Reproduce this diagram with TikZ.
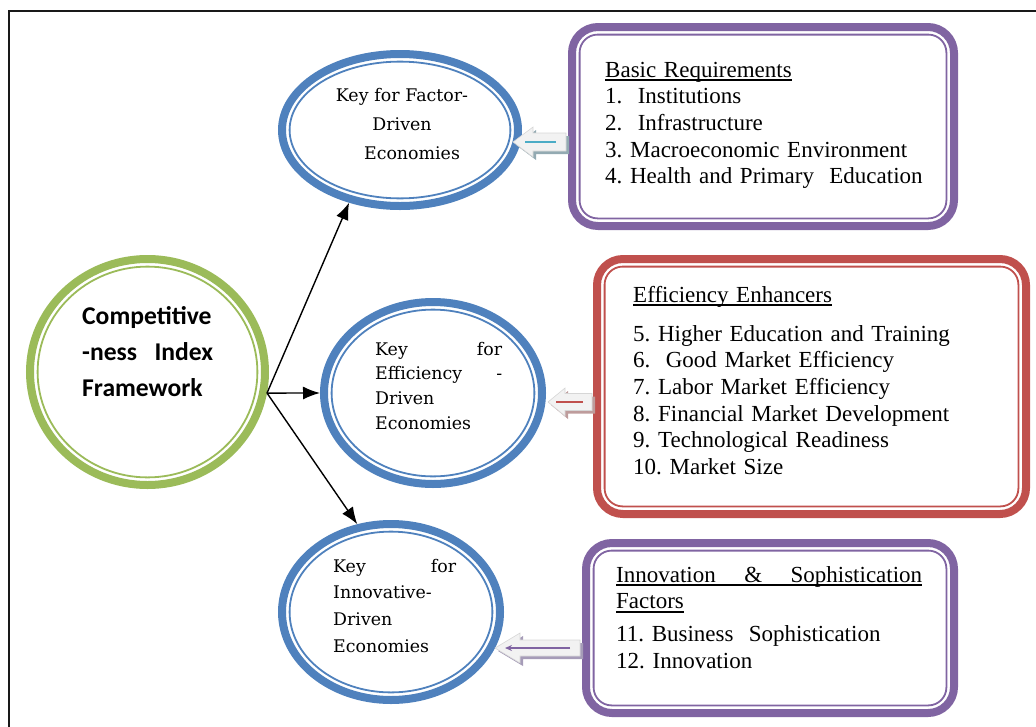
\documentclass[tikz,border=0pt]{standalone}
\usepackage{fontspec}
\newfontfamily\listfont{Liberation Serif}
\newfontfamily\titlefont{Carlito}
\newfontfamily\keyfont{DejaVu Serif}
\usetikzlibrary{shapes.geometric,arrows.meta,calc}

\definecolor{ringblue}{HTML}{4F81BD}
\definecolor{ringgreen}{HTML}{9BBB59}
\definecolor{ringred}{HTML}{C0504D}
\definecolor{ringpurple}{HTML}{8064A2}
\definecolor{lineteal}{HTML}{4BACC6}
\definecolor{arrowfill}{HTML}{F2F2F2}
\definecolor{arrowedge}{HTML}{D6D6D6}
\definecolor{shadeteal}{HTML}{93AAB2}
\definecolor{shadered}{HTML}{BE9C9C}
\definecolor{shadepurple}{HTML}{A69CB8}

% underline drawn as a rule below the boxed text
\newcommand\ulined[1]{\setbox0\hbox{#1}\leavevmode\rlap{\rule[-4pt]{\wd0}{1.7pt}}\box0}

% block arrow outline: #1 options, #2 tail, #3 tip, #4 head length,
% #5 half head width, #6 half shaft width, #7 offset
\newcommand\arrowpoly[7]{%
  \path[#1] ($(#3)+(#7,#7)$) -- ($(#3)+(#4+#7,#5+#7)$) -- ($(#3)+(#4+#7,#6+#7)$)
    -- ($(#2)+(#7,#6+#7)$) -- ($(#2)+(#7,-#6+#7)$) -- ($(#3)+(#4+#7,-#6+#7)$)
    -- ($(#3)+(#4+#7,-#5+#7)$) -- cycle;}

\begin{document}
\frenchspacing
\begin{tikzpicture}[x=1pt,y=-1pt,
  ring/.style={draw=#1,line width=8pt},
  thinring/.style={draw=#1,line width=1.8pt},
  keyellipse/.style={ellipse,ring=ringblue,inner sep=0pt},
  factbox/.style={rectangle,ring=#1,rounded corners=26pt,inner sep=0pt,outer sep=0pt},
  listtext/.style={font=\listfont\fontsize{23}{26.7}\selectfont\frenchspacing,align=left,inner sep=0pt,anchor=base west},
  keytext/.style={font=\keyfont\fontsize{17.4}{#1}\selectfont,align=left,inner sep=0pt,anchor=base west},
  conn/.style={line width=1.4pt,-{Latex[length=17pt,width=13pt]}},
  frameline/.style={draw=black!90,line width=1.5pt}]

\clip (0,0) rectangle (1036,726);
\draw[frameline] (9,11) rectangle (1080,780);

% central framework circle
\node[ellipse,ring=ringgreen,inner sep=0pt,minimum width=235pt,minimum height=226pt] (cpi) at (147.5,372) {};
\draw[thinring=ringgreen] (cpi.center) ellipse [x radius=109.9, y radius=105.4];
\node[font=\titlefont\bfseries\fontsize{25.6}{36.3}\selectfont,text width=140pt,align=left,inner sep=0pt,anchor=base west] (cpiT) at (82,324)
  {Competitive\\ \makebox[131pt][s]{-ness\hfill Index}\\ Framework};

% economy-type ellipses
\node[keyellipse,minimum width=236pt,minimum height=152pt] (fac) at (400,130) {};
\draw[thinring=ringblue] (fac.center) ellipse [x radius=110.4, y radius=68.4];
\node[keytext=29,text width=160pt,align=center,anchor=base] (facT) at (402,101)
  {Key for Factor-\\ Driven\\ \hspace*{20pt}Economies};

\node[keyellipse,minimum width=218pt,minimum height=182pt] (eff) at (433,393) {};
\draw[thinring=ringblue] (eff.center) ellipse [x radius=101.4, y radius=83.4];
\node[keytext=24.7,text width=127pt] (effT) at (375,355)
  {\makebox[127pt][s]{Key\hfill for}\\ \makebox[127pt][s]{Efficiency\hfill -}\\ Driven\\ Economies};

\node[keyellipse,minimum width=218pt,minimum height=176pt] (inn) at (391,612) {};
\draw[thinring=ringblue] (inn.center) ellipse [x radius=101.4, y radius=80.4];
\node[keytext=26.7,text width=124pt] (innT) at (333,572)
  {\makebox[123pt][s]{Key\hfill for}\\ Innovative-\\ Driven\\ Economies};

% connectors from the framework
\coordinate (hub) at (cpi.-10);
\draw[conn] (hub) -- (fac.235);
\draw[conn] (hub) -- (eff.west);
\draw[conn] (hub) -- (inn.111);

% pillar boxes
\node[factbox=ringpurple,minimum width=382pt,minimum height=199pt] (bas) at (763,126.5) {};
\draw[thinring=ringpurple,rounded corners=18pt] ([shift={(7.6,7.6)}]bas.north west) rectangle ([shift={(-7.6,-7.6)}]bas.south east);
\node[listtext,text width=340pt] (basT) at (605,77)
  {\ulined{Basic Requirements}\\ 1.\ \ Institutions\\ 2.\ \ Infrastructure\\ 3. Macroeconomic Environment\\ 4. Health and Primary\ \ Education};

\node[factbox=ringred,minimum width=429pt,minimum height=255pt] (enh) at (811.5,386.5) {};
\draw[thinring=ringred,rounded corners=18pt] ([shift={(7.6,7.6)}]enh.north west) rectangle ([shift={(-7.6,-7.6)}]enh.south east);
\node[listtext,text width=380pt] (enhT) at (633,302)
  {\ulined{Efficiency Enhancers}\\[12.3pt] 5. Higher Education and Training\\ 6.\ \ Good Market Efficiency\\ 7. Labor Market Efficiency\\ 8. Financial Market Development\\ 9. Technological Readiness\\ 10. Market Size};

\node[factbox=ringpurple,minimum width=368pt,minimum height=170pt] (ino) at (770,628) {};
\draw[thinring=ringpurple,rounded corners=18pt] ([shift={(7.6,7.6)}]ino.north west) rectangle ([shift={(-7.6,-7.6)}]ino.south east);
\node[listtext,text width=320pt] (inoT) at (616,582)
  {\ulined{\makebox[306pt][s]{Innovation\hfill\&\hfill Sophistication}}\\ \ulined{Factors}\\[6pt] 11. Business\ \ Sophistication\\ 12. Innovation};

% block arrows from the boxes to the ellipses
\coordinate (b1t) at ($(bas.west)+(-6,15.5)$);
\coordinate (b1h) at ($(b1t -| fac.east)+(-9,0)$);
\arrowpoly{fill=shadeteal}{b1t}{b1h}{20}{15}{9}{3}
\arrowpoly{fill=arrowfill,draw=arrowedge,line width=0.6pt}{b1t}{b1h}{20}{15}{9}{0}
\draw[lineteal,line width=1.5pt] ($(b1h)+(12,0)$) -- ($(b1t)+(-10,0)$);

\coordinate (b2t) at ($(enh.west)+(-5,15.5)$);
\coordinate (b2h) at ($(b2t -| eff.east)+(2,0)$);
\arrowpoly{fill=shadered}{b2t}{b2h}{17}{14}{8.5}{3}
\arrowpoly{fill=arrowfill,draw=arrowedge,line width=0.6pt}{b2t}{b2h}{17}{14}{8.5}{0}
\draw[ringred,line width=1.5pt] ($(b2h)+(8,0)$) -- ($(b2t)+(-9,0)$);

\coordinate (b3t) at ($(ino.west)+(-6,20)$);
\coordinate (b3h) at ($(b3t -| inn.east)+(-9,0)$);
\arrowpoly{fill=shadepurple}{b3t}{b3h}{25}{15}{8}{3}
\arrowpoly{fill=arrowfill,draw=arrowedge,line width=0.6pt}{b3t}{b3h}{25}{15}{8}{0}
\draw[ringpurple,line width=1.5pt,-{Stealth[length=7pt,width=6pt]}] ($(b3t)+(-10,0)$) -- ($(b3h)+(10,0)$);

\end{tikzpicture}
\end{document}
